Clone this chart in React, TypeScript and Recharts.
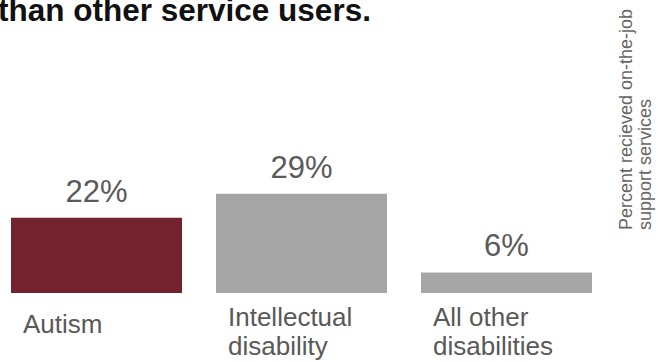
import React from "react";
import { BarChart, Bar, XAxis, YAxis, LabelList, Cell } from "recharts";

// Share of service users who received on-the-job support, by disability group
const categories: string[][] = [["Autism"], ["Intellectual", "disability"], ["All other", "disabilities"]];
const percents: number[] = [22, 29, 6];
const barColors: string[] = ["#75222F", "#A5A5A5", "#A5A5A5"];
const yMax = 40;
const titleText = "than other service users.";
const axisTitleLines: string[] = ["Percent recieved on-the-job", "support services"];

const data = categories.map((lines, i) => ({
  name: lines.join(" "),
  lines,
  value: percents[i],
}));

const FONT = '"Liberation Sans", Arial, Helvetica, sans-serif';

const CategoryTick = (props: any) => {
  const { x, y, payload, index } = props;
  const lines: string[] = data[index]?.lines ?? [String(payload.value)];
  const left = x - 205 / 2 + 17 + 12;
  const first = lines.length === 1 ? 40 : 33;
  return (
    <text x={left} y={y} fill="#595959" fontSize={26} fontFamily={FONT} textAnchor="start">
      {lines.map((ln, i) => (
        <tspan key={i} x={left} dy={i === 0 ? first : 29}>
          {ln}
        </tspan>
      ))}
    </text>
  );
};

const ValueLabel = (props: any) => {
  const { x, y, width, value } = props;
  return (
    <text x={x + width / 2} y={y - 16} fill="#5A5A5A" fontSize={31} fontFamily={FONT} textAnchor="middle">
      {`${value}%`}
    </text>
  );
};

const AxisTitle = (props: any) => {
  const { viewBox } = props;
  const bx = viewBox.x + 23;
  const by = 230;
  return (
    <g>
      {axisTitleLines.map((ln, i) => (
        <text
          key={i}
          x={bx + i * 19}
          y={by}
          transform={`rotate(-90 ${bx + i * 19} ${by})`}
          fill="#666666"
          fontSize={18}
          fontFamily={FONT}
          textAnchor="start"
        >
          {ln}
        </text>
      ))}
    </g>
  );
};

export default function App() {
  return (
    <div style={{ position: "absolute", left: 0, top: 0, width: 667, height: 362, overflow: "hidden", background: "#fff" }}>
      <div style={{ position: "absolute", left: -6, top: 0 }}>
        <BarChart
          width={673}
          height={362}
          data={data}
          margin={{ top: 156, right: 0, bottom: 0, left: 0 }}
        >
          <XAxis
            dataKey="name"
            axisLine={false}
            tickLine={false}
            tickSize={0}
            tickMargin={0}
            height={69}
            interval={0}
            tick={<CategoryTick />}
          />
          <YAxis
            orientation="right"
            width={58}
            domain={[0, yMax]}
            axisLine={false}
            tickLine={false}
            tick={false}
            label={{ content: <AxisTitle /> }}
          />
          <Bar dataKey="value" barSize={171} isAnimationActive={false}>
            {data.map((_, i) => (
              <Cell key={i} fill={barColors[i]} />
            ))}
            <LabelList dataKey="value" content={<ValueLabel />} />
          </Bar>
        </BarChart>
      </div>
      <svg width={667} height={40} style={{ position: "absolute", left: 0, top: 0 }}>
        <text x={-2} y={21} fontSize={31.5} fontWeight="bold" fontFamily={FONT} fill="#111">
          {titleText}
        </text>
      </svg>
    </div>
  );
}
